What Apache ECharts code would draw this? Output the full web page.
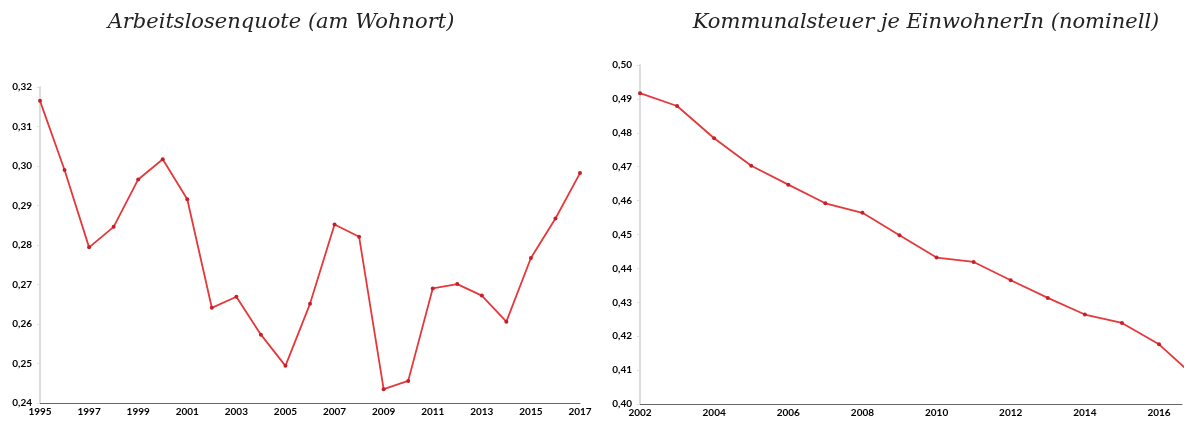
<!DOCTYPE html>
<html>
<head>
<meta charset="utf-8">
<script src="https://cdn.jsdelivr.net/npm/echarts@6/dist/echarts.min.js"></script>
<style>
  html, body { margin: 0; padding: 0; background: #fff; }
  #chart { width: 1190px; height: 421px; }
</style>
</head>
<body>
<div id="chart"></div>
<script>
// Left chart: Arbeitslosenquote (am Wohnort)
const leftTitle = 'Arbeitslosenquote (am Wohnort)';
const leftYears = ['1995','1996','1997','1998','1999','2000','2001','2002','2003','2004','2005','2006','2007','2008','2009','2010','2011','2012','2013','2014','2015','2016','2017'];
const leftValues = [0.3165,0.2990,0.2794,0.2846,0.2966,0.3017,0.2916,0.2641,0.2669,0.2573,0.2494,0.2651,0.2852,0.2821,0.2435,0.2456,0.2690,0.2701,0.2672,0.2606,0.2767,0.2867,0.2982];

// Right chart: Kommunalsteuer je EinwohnerIn (nominell)
const rightTitle = 'Kommunalsteuer je EinwohnerIn (nominell)';
const rightYears = [2002,2003,2004,2005,2006,2007,2008,2009,2010,2011,2012,2013,2014,2015,2016,2017];
const rightValues = [0.4917,0.4879,0.4784,0.4703,0.4647,0.4592,0.4564,0.4498,0.4432,0.4419,0.4365,0.4313,0.4264,0.4239,0.4176,0.4077];

const lineColor = '#e5383b';
const labelStyle = { fontFamily: 'Lato', fontWeight: 'bold', fontSize: 10, color: '#000' };
const commaFmt = v => v.toFixed(2).replace('.', ',');
const titleStyle = { fontFamily: 'DejaVu Serif', fontStyle: 'italic', fontWeight: 'normal', fontSize: 21, color: '#222' };

const chart = echarts.init(document.getElementById('chart'));
chart.setOption({
  animation: false,
  backgroundColor: '#fff',
  title: [
    { text: leftTitle, left: 276, top: 7, textAlign: 'center', textStyle: titleStyle },
    { text: rightTitle, left: 921, top: 7, textAlign: 'center', textStyle: titleStyle }
  ],
  grid: [
    { left: 40, right: 610, top: 87, bottom: 18 },
    { left: 640, right: 8, top: 65, bottom: 17 }
  ],
  xAxis: [
    { type: 'category', gridIndex: 0, data: leftYears, boundaryGap: false,
      axisLine: { lineStyle: { color: '#666', width: 1 } },
      axisTick: { show: false },
      axisLabel: Object.assign({ interval: 1, margin: 4 }, labelStyle),
      splitLine: { show: false } },
    { type: 'value', gridIndex: 1, min: 2002, max: 2016.62, interval: 2,
      axisLine: { lineStyle: { color: '#666', width: 1 } },
      axisTick: { show: false },
      axisLabel: Object.assign({ margin: 4, showMaxLabel: false, formatter: v => String(v) }, labelStyle),
      splitLine: { show: false } }
  ],
  yAxis: [
    { type: 'value', gridIndex: 0, min: 0.24, max: 0.32, interval: 0.01,
      axisLine: { show: true, lineStyle: { color: '#ddd', width: 2 } },
      axisTick: { show: true, length: 3, lineStyle: { color: '#ddd' } },
      axisLabel: Object.assign({ margin: 8, formatter: commaFmt }, labelStyle),
      splitLine: { show: false } },
    { type: 'value', gridIndex: 1, min: 0.40, max: 0.50, interval: 0.01,
      axisLine: { show: true, lineStyle: { color: '#ddd', width: 2 } },
      axisTick: { show: true, length: 3, lineStyle: { color: '#ddd' } },
      axisLabel: Object.assign({ margin: 8, formatter: commaFmt }, labelStyle),
      splitLine: { show: false } }
  ],
  series: [
    { type: 'line', xAxisIndex: 0, yAxisIndex: 0, data: leftValues,
      symbol: 'circle', symbolSize: 4,
      lineStyle: { color: lineColor, width: 1.8 },
      itemStyle: { color: '#c4202a' } },
    { type: 'line', xAxisIndex: 1, yAxisIndex: 1, clip: false,
      data: rightYears.map((y, i) => [y, rightValues[i]]),
      symbol: 'circle', symbolSize: 4,
      lineStyle: { color: lineColor, width: 1.8 },
      itemStyle: { color: '#c4202a' } }
  ]
});
</script>
</body>
</html>
